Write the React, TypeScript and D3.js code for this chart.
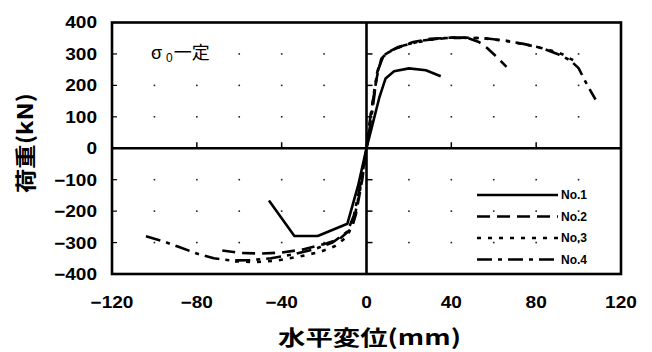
import React from "react";
import * as d3 from "d3";

const xTicks = [-120, -80, -40, 0, 40, 80, 120];
const yTicks = [400, 300, 200, 100, 0, -100, -200, -300, -400];
const legendLabels = ["No.1", "No.2", "No.3", "No.4"];

const no1: [number, number][] = [
  [-46, -166], [-34, -279], [-23, -279], [-9, -240], [-4, -120], [0, 0],
  [3, 80], [6, 160], [9, 222], [13, 245], [20, 254], [28, 248], [35, 229],
];
const no2: [number, number][] = [
  [-68, -325], [-60, -333], [-50, -335], [-40, -332], [-30, -322], [-20, -305], [-13, -290],
  [-7, -255], [-5, -210], [-2, -100], [0, 0], [2, 110], [5, 230], [7, 285], [10, 305],
  [15, 322], [22, 338], [30, 348], [40, 352], [48, 350], [53, 338], [57, 318], [61, 293], [66, 259],
];
const no3: [number, number][] = [
  [-62, -360], [-52, -362], [-42, -357], [-32, -345], [-22, -330], [-15, -312], [-9, -280],
  [-6, -230], [-3, -130], [0, 0], [2, 100], [4, 200], [6, 270], [9, 300], [14, 318],
  [20, 332], [30, 345], [40, 352], [55, 350], [65, 342], [75, 330], [85, 315], [92, 300], [98, 278],
];
const no4: [number, number][] = [
  [-104, -280], [-95, -298], [-88, -315], [-80, -335], [-72, -350], [-64, -357], [-55, -356],
  [-45, -350], [-35, -338], [-25, -322], [-16, -300], [-9, -265], [-6, -215], [-3, -120], [0, 0],
  [3, 130], [5, 240], [8, 295], [12, 312], [18, 328], [26, 342], [35, 350], [45, 352], [56, 350],
  [66, 342], [74, 332], [82, 320], [90, 300], [96, 280], [100, 255], [103, 215], [105, 190], [108, 155],
];

const seriesData = [no1, no2, no3, no4];
const dashes = ["none", "13,7", "4,7", "15,6,4,6"];

const W = 652;
const H = 352;
const L = 112, R = 621, T = 22.5, B = 274;

export default function App() {
  const x = d3.scaleLinear().domain([-120, 120]).range([L, R]);
  const y = d3.scaleLinear().domain([-400, 400]).range([B, T]);
  const line = d3.line<[number, number]>().x((d) => x(d[0])).y((d) => y(d[1]));

  const gridX = d3.range(-100, 101, 20).filter((v) => v !== 0);
  const gridY = d3.range(-300, 301, 100).filter((v) => v !== 0);
  const font = "'Liberation Sans', Arial, sans-serif";
  const cjk = "'Noto Sans CJK JP', sans-serif";

  const labelWidth = (s: string) => {
    let w = 0;
    for (const c of s) w += c === "−" ? 11 : 10.6;
    return w;
  };
  const fmt = (v: number) => (v < 0 ? "−" + Math.abs(v) : String(v));

  return (
    <svg width={W} height={H} style={{ position: "absolute", left: 0, top: 0, background: "#fff" }}>
      <rect x={0} y={0} width={W} height={H} fill="#fff" />
      {gridX.map((gx) =>
        gridY.map((gy) => (
          <rect key={`${gx}_${gy}`} x={x(gx) - 0.8} y={y(gy) - 0.8} width={1.6} height={1.6} fill="#222" />
        ))
      )}
      <rect x={L} y={T} width={R - L} height={B - T} fill="none" stroke="#000" strokeWidth={2.6} />
      <line x1={L} x2={R} y1={y(0)} y2={y(0)} stroke="#000" strokeWidth={2.6} />
      <line x1={x(0)} x2={x(0)} y1={T} y2={B} stroke="#000" strokeWidth={2.6} />
      {gridY.map((v) => (
        <line key={"ty" + v} x1={x(0)} x2={x(0) + 6} y1={y(v)} y2={y(v)} stroke="#000" strokeWidth={1.5} />
      ))}
      {[-80, -40, 40, 80].map((v) => (
        <line key={"tx" + v} x1={x(v)} x2={x(v)} y1={y(0)} y2={y(0) - 6} stroke="#000" strokeWidth={1.5} />
      ))}
      {gridY.map((v) => (
        <line key={"tl" + v} x1={L} x2={L + 5} y1={y(v)} y2={y(v)} stroke="#000" strokeWidth={1.2} />
      ))}
      {yTicks.map((v) => {
        const s = fmt(v);
        return (
          <text key={"yl" + v} x={97} y={y(v)} dy="0.36em" textAnchor="end" fontFamily={font}
            fontWeight="bold" fontSize={16.5} textLength={labelWidth(s)} lengthAdjust="spacingAndGlyphs">
            {s}
          </text>
        );
      })}
      {xTicks.map((v) => {
        const s = fmt(v);
        return (
          <text key={"xl" + v} x={x(v)} y={308} textAnchor="middle" fontFamily={font}
            fontWeight="bold" fontSize={16.5} textLength={labelWidth(s)} lengthAdjust="spacingAndGlyphs">
            {s}
          </text>
        );
      })}
      <text x={278} y={345} fontFamily={cjk} fontWeight="bold" fontSize={21}
        textLength={183} lengthAdjust="spacingAndGlyphs">
        水平変位(mm)
      </text>
      <text transform="translate(33,193) rotate(-90)" fontFamily={cjk} fontWeight="bold" fontSize={21}
        textLength={100} lengthAdjust="spacingAndGlyphs">
        荷重(kN)
      </text>
      <text x={151} y={59} fontFamily={cjk} fontSize={18}>
        <tspan fontFamily={font} fontSize={18}>σ</tspan>
        <tspan fontFamily={font} fontSize={12} dx={4} dy={3}>0</tspan>
        <tspan dy={-3} dx={1}>一定</tspan>
      </text>
      {seriesData.map((d, i) => (
        <path key={"s" + i} d={line(d) || ""} fill="none" stroke="#000" strokeWidth={2.6}
          strokeDasharray={dashes[i]} strokeLinejoin="round" />
      ))}
      {legendLabels.map((lab, i) => {
        const ly = 195 + i * 21.5;
        return (
          <g key={lab}>
            <line x1={477} x2={558} y1={ly} y2={ly} stroke="#000" strokeWidth={2.6} strokeDasharray={dashes[i]} />
            <text x={561} y={ly} dy="0.36em" fontFamily={font} fontWeight="bold" fontSize={12}>
              {lab}
            </text>
          </g>
        );
      })}
    </svg>
  );
}
